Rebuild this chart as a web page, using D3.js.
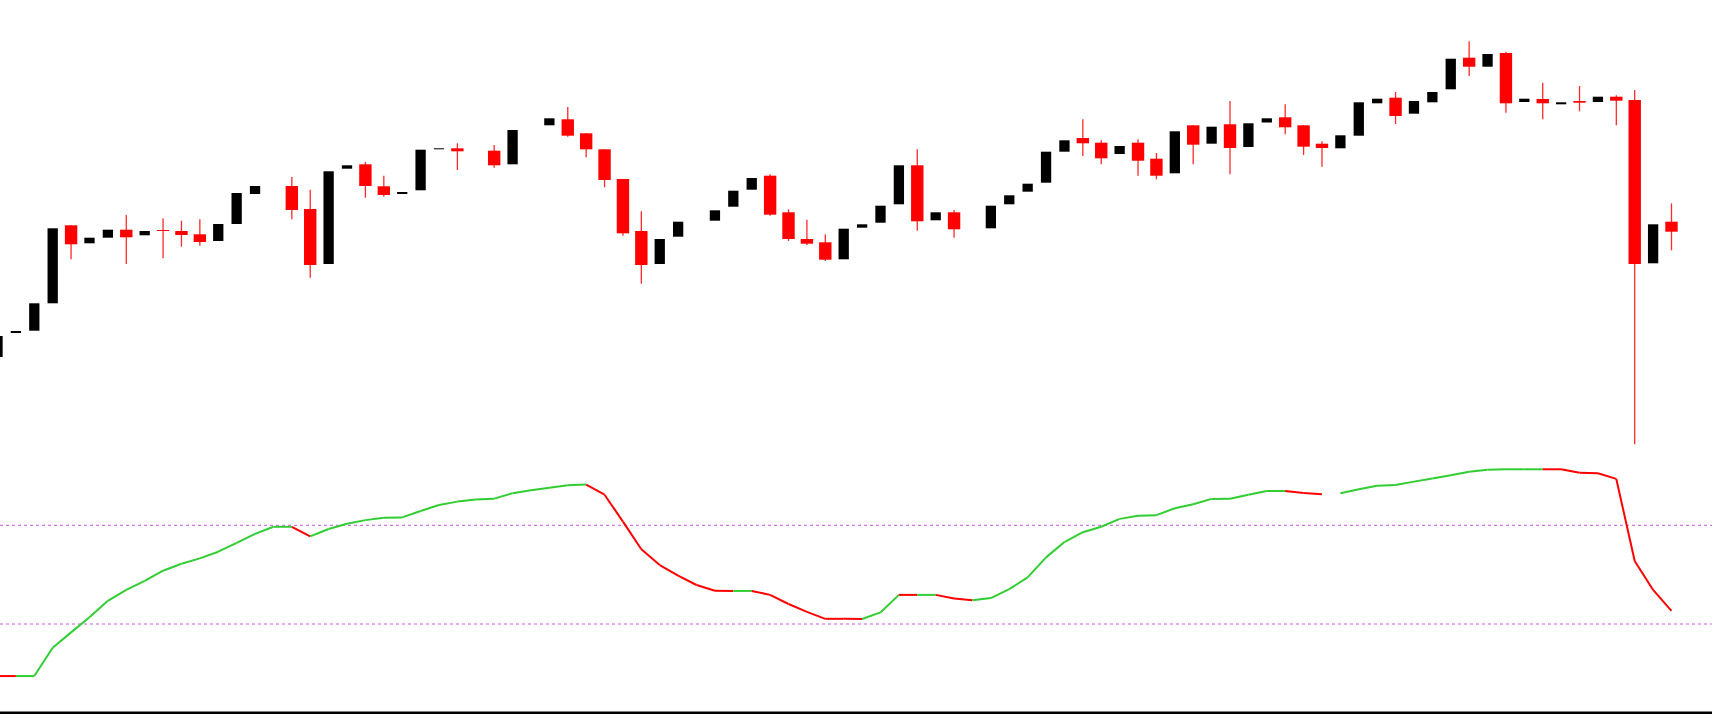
<!DOCTYPE html>
<html>
<head>
<meta charset="utf-8">
<script src="https://cdn.jsdelivr.net/npm/d3@7"></script>
<style>
  html, body { margin: 0; padding: 0; background: #ffffff; overflow: hidden; }
  svg { display: block; }
</style>
</head>
<body>
<svg id="chart" width="1712" height="714"></svg>
<script>
// ---- Data ----
const opens = [143,167,169.3,196.7,274.7,256.7,262.3,270.3,264.7,270,
  269,265.7,259,276,306,314,314,291,236,331.3,
  335.7,313.7,306,309.7,350.7,351.7,349,349.3,335.7,370,
  374.7,380.7,366.7,350.7,321,269,236,263.3,280,279.3,
  293.3,310.3,324.3,287.7,261,257.7,240.7,272.3,277.3,295.7,
  334.7,279.7,287.7,272,271.7,295.7,308.3,317.3,348.3,362,
  357.3,346,357.3,341.3,326.7,374.7,356.3,375.7,353,377.5,
  382.7,374.7,356.3,351.7,364.3,396.7,402.3,386.3,397.7,410.7,
  442.3,433.3,447,398,401,395.7,399,398,403.3,400,
  236.7,278.3];
const highs = [164,169,196.7,271.7,274.7,262.3,270.3,285,269,281.7,
  279.3,280.7,276,307,314,314,323,310.3,328.7,334.7,
  338,324.3,308,350.3,351.7,356.7,349,355,370,370,
  381.7,393,366.7,350.7,321,288.7,261,278.3,280,289.7,
  309.3,322,325.7,290.7,280.3,265.7,271.3,275.7,294.3,334.7,
  350.7,287.7,290,272,294.3,304.7,316.3,348.3,359.7,380.7,
  359.7,354,360.7,347,368.7,374.7,373.3,399,376.7,381.7,
  395.7,374.7,358.7,364.7,397.7,401.3,408,399,408,441.3,
  458.7,446,448.3,401.3,417.3,397.7,414,403.3,404.7,410,
  275.7,296.7];
const lows = [143,167,169.3,196.7,240.7,256.7,262.3,236,264.7,241.7,
  253.3,254.3,259,276,306,314,280.7,222.3,236,331.3,
  302.3,303.3,306,309.7,350.7,330,349,332.3,335.7,370,
  374.7,363.3,342.7,312.7,264.3,216.3,236,263.3,280,279.3,
  293.3,310.3,284.3,259,255,239,240.7,272.3,277.3,295.7,
  269.3,279.7,262.3,272,271.7,295.7,308.3,317.3,348.3,344,
  335.7,346,324.3,320.7,326.7,335.7,356.3,325.7,353,377.5,
  365.7,345,333.3,351.7,364.3,396.7,376,386.3,397.7,410.7,
  424,433.3,387.3,398,380.7,395.7,388.7,398,374.7,55.7,
  236.7,249.7];
const closes = [164,169,196.7,271.7,255.7,262.3,270.3,262.7,269,269.4,
  265,258,276,307,314,314,290,235,328.7,334.7,
  314,305,308,350.3,351.7,348.7,349,334.7,370,370,
  381.7,364.3,350.7,320,266.7,235,261,278.3,280,289.7,
  309.3,322,285.3,261,256.3,240.3,271.3,275.7,294.3,334.7,
  278.7,287.7,270.7,272,294.3,304.7,316.3,348.3,359.7,356.7,
  341.7,354,339.3,324.3,368.7,355.3,373.3,352,376.7,381.7,
  372.7,353.3,352,364.7,397.7,401.3,384,399,408,441.3,
  433.3,446,396.7,401.3,396.7,397.7,397.3,403.3,399.3,236,
  275.7,268.3];

// oscillator (levels at 30 and 70)
const osc = [8.9,8.9,8.9,20.4,26.6,32.7,39.4,43.8,47.5,51.6,
  54.4,56.6,59.3,62.9,66.5,69.4,69.4,65.5,68.5,70.6,
  72.1,73.1,73.2,75.8,78.2,79.6,80.5,80.8,83.0,84.2,
  85.2,86.2,86.5,82.4,71.5,60.3,53.9,49.6,45.8,43.5,
  43.4,43.4,41.8,38.1,34.9,32.1,32.1,32.0,34.7,41.8,
  41.8,41.8,40.3,39.6,40.5,44.1,48.9,57.0,63.2,67.2,
  69.4,72.6,73.9,74.1,76.9,78.5,80.7,80.8,82.4,83.9,
  83.9,83.1,82.6,83.0,84.6,86.0,86.3,87.7,89.0,90.3,
  91.7,92.5,92.7,92.7,92.7,92.7,91.3,91.1,88.8,55.5,
  43.8,35.3];
// colour state of each oscillator segment (bar k -> k+1): g = up buffer, r = down buffer, - = no line
const segState = "rgggggggggggggggrgggggggggggggggrrrrrrrrgrrrrrrggrgrrgggggggggggggggggrr-gggggggggggrrrrrrr";
const levels = [70, 30];

// ---- Layout ----
const W = 1712, H = 714;
const svg = d3.select("#chart");
svg.append("rect").attr("width", W).attr("height", H).attr("fill", "#ffffff");

const idx = d3.range(opens.length);
const x = d3.scaleLinear().domain([0, opens.length - 1]).range([-2.5, 1671.5]);
const y = d3.scaleLinear().domain([0, 500]).range([500, 0]);
const yo = d3.scaleLinear().domain([30, 70]).range([624, 525.3]);

const UP = "#000000", DOWN = "#ff0000";
const gCandles = svg.append("g");

function kind(i) {
  if (closes[i] > opens[i]) return "up";
  if (closes[i] < opens[i]) return "down";
  return "flat";
}

// wicks (only bear candles show a visible wick; bull wick colour is white)
gCandles.selectAll("line.wick")
  .data(idx)
  .join("line")
  .attr("class", "wick")
  .attr("x1", i => x(i)).attr("x2", i => x(i))
  .attr("y1", i => y(highs[i])).attr("y2", i => y(lows[i]))
  .attr("stroke", i => kind(i) === "down" ? "#ff2a2a" : "#ffffff")
  .attr("stroke-width", 1.3);

// bodies
gCandles.selectAll("rect.body")
  .data(idx)
  .join("rect")
  .attr("class", "body")
  .attr("x", i => x(i) - (kind(i) === "down" ? 6.2 : 5.15))
  .attr("width", i => kind(i) === "down" ? 12.4 : 10.3)
  .attr("y", i => y(Math.max(opens[i], closes[i])))
  .attr("height", i => Math.max(1, Math.abs(y(opens[i]) - y(closes[i]))))
  .attr("fill", i => kind(i) === "down" ? DOWN : (kind(i) === "up" ? UP : "#ffffff"));

// oscillator levels
svg.selectAll("line.level")
  .data(levels)
  .join("line")
  .attr("class", "level")
  .attr("x1", 0).attr("x2", W)
  .attr("y1", d => yo(d)).attr("y2", d => yo(d))
  .attr("stroke", "#c858dc")
  .attr("stroke-width", 1)
  .attr("stroke-dasharray", "3,3");

// oscillator coloured segments
const segs = d3.range(osc.length - 1).filter(k => segState[k] !== "-");
const line = d3.line().x(d => x(d[0])).y(d => yo(d[1]));
svg.append("g").selectAll("path")
  .data(segs)
  .join("path")
  .attr("d", k => line([[k, osc[k]], [k + 1, osc[k + 1]]]))
  .attr("fill", "none")
  .attr("stroke", k => segState[k] === "g" ? "#32cd32" : "#ff0000")
  .attr("stroke-width", 2)
  .attr("stroke-linecap", "butt");

// bottom border
svg.append("rect").attr("x", 0).attr("y", 711.5).attr("width", W).attr("height", 2.5).attr("fill", "#000000");
</script>
</body>
</html>
